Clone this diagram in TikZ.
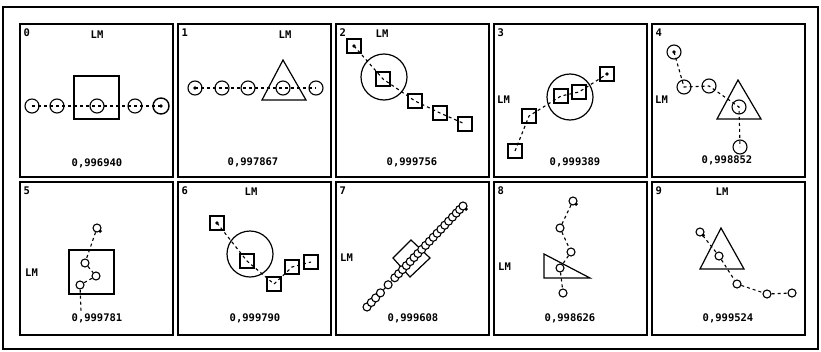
\documentclass[tikz,border=0pt]{standalone}
\usepackage{fontspec}
\setmonofont{DejaVu Sans Mono}
\usetikzlibrary{positioning}

\begin{document}
\begin{tikzpicture}[
  x=1pt, y=-1pt,
  font=\ttfamily\bfseries\fontsize{10.5}{12}\selectfont,
  frame/.style={draw, line width=1.5pt},
  traj/.style={draw, line width=1.1pt, dash pattern=on 3pt off 3pt},
  atom/.style={draw, circle, line width=1.1pt, minimum size=14pt, inner sep=0pt},
  qatom/.style={draw, circle, line width=1.1pt, minimum size=8pt, inner sep=0pt},
  cell/.style={draw, line width=1.2pt, minimum size=14pt, inner sep=0pt},
  ring/.style={draw, circle, line width=1.2pt, minimum size=46pt, inner sep=0pt},
  outline/.style={draw, line width=1.2pt},
  tag/.style={anchor=west, inner sep=0pt},
  val/.style={inner sep=0pt},
]
\useasboundingbox (0,0) rectangle (821,351);
\draw[frame, line width=1.2pt] (3,7) rectangle (818,349);

% the ten frames with their numbers
\foreach \i in {0,...,9} {
  \pgfmathtruncatemacro{\col}{mod(\i,5)}
  \pgfmathtruncatemacro{\row}{\i/5}
  \draw[frame] ({20+158*\col},{24+158*\row}) rectangle +(153,153);
  \node[tag] (n\i) at ({23.5+158*\col},{33+158*\row}) {\i};
}

% 0
\begin{scope}[shift={(20,24)}]
\node (lm0) at (77,11) {LM};
\node[cell, minimum width=45pt, minimum height=43pt] (b0) at (76.5,73.5) {};
\node[atom] (a01) at (12,82) {};
\node[atom] (a02) at (37,82) {};
\node[atom] (a03) at (77,82) {};
\node[atom] (a04) at (115,82) {};
\node[atom, minimum size=16pt, line width=1.4pt] (a05) at (141,82) {};
\fill (a05) circle (1.8pt);
\draw[traj] (a01.center) -- (a02.center) -- (a03.center) -- (a04.center) -- (a05.center);
\node[val] (v0) at (77,139) {0,996940};
\end{scope}

% 1
\begin{scope}[shift={(178,24)}]
\node (lm1) at (107,11) {LM};
\draw[outline] (105,36) -- (84,76) -- (128,76) -- cycle;
\node[atom] (a11) at (17,64) {};
\node[atom] (a12) at (44,64) {};
\node[atom] (a13) at (70,64) {};
\node[atom] (a14) at (105,64) {};
\node[atom] (a15) at (138,64) {};
\fill (a11) circle (1.8pt);
\draw[traj] (a11.center) -- (a12.center) -- (a13.center) -- (a14.center) -- (a15.center);
\node[val] (v1) at (75,138) {0,997867};
\end{scope}

% 2
\begin{scope}[shift={(336,24)}]
\node (lm2) at (46,10) {LM};
\node[ring] (r2) at (48,53) {};
\node[cell] (s21) at (18,22) {};
\node[cell] (s22) at (47,55) {};
\node[cell] (s23) at (79,77) {};
\node[cell] (s24) at (104,89) {};
\node[cell] (s25) at (129,100) {};
\fill (s21) circle (1.8pt);
\draw[traj] (s21.center) -- (s22.center) -- (s23.center) -- (s24.center) -- (s25.center);
\node[val] (v2) at (76,138) {0,999756};
\end{scope}

% 3
\begin{scope}[shift={(494,24)}]
\node[tag] (lm3) at (3,76) {LM};
\node[ring] (r3) at (76,73) {};
\node[cell] (s31) at (21,127) {};
\node[cell] (s32) at (35,92) {};
\node[cell] (s33) at (67,72) {};
\node[cell] (s34) at (85,68) {};
\node[cell] (s35) at (113,50) {};
\fill (s35) circle (1.8pt);
\draw[traj] (s31.center) -- (s32.center) -- (s33.center) -- (s34.center) -- (s35.center);
\node[val] (v3) at (81,138) {0,999389};
\end{scope}

% 4
\begin{scope}[shift={(652,24)}]
\node[tag] (lm4) at (3,76) {LM};
\draw[outline] (86,56) -- (65,95) -- (109,95) -- cycle;
\node[atom] (a41) at (22,28) {};
\node[atom] (a42) at (32,63) {};
\node[atom] (a43) at (57,62) {};
\node[atom] (a44) at (87,83) {};
\node[atom] (a45) at (88,123) {};
\fill (a41) circle (1.8pt);
\draw[traj] (a41.center) -- (a42.center) -- (a43.center) -- (a44.center) -- (a45.center);
\node[val] (v4) at (75,136) {0,998852};
\end{scope}

% 5
\begin{scope}[shift={(20,182)}]
\node[tag] (lm5) at (5,91) {LM};
\node[cell, minimum width=45pt, minimum height=44pt] (b5) at (71.5,90) {};
\node[qatom] (a51) at (77,46) {};
\node[qatom] (a52) at (65,81) {};
\node[qatom] (a53) at (76,94) {};
\node[qatom] (a54) at (60,103) {};
\coordinate (e5) at (61,129);
\fill (a51.south east) circle (1.8pt);
\draw[traj] (a51) -- (a52) -- (a53) -- (a54) -- (e5);
\node[val] (v5) at (77,136) {0,999781};
\end{scope}

% 6
\begin{scope}[shift={(178,182)}]
\node (lm6) at (73,10) {LM};
\node[ring] (r6) at (72,72) {};
\node[cell] (s61) at (39,41) {};
\node[cell] (s62) at (69,79) {};
\node[cell] (s63) at (96,102) {};
\node[cell] (s64) at (114,85) {};
\node[cell] (s65) at (133,80) {};
\fill (s61) circle (1.8pt);
\draw[traj] (s61.center) -- (s62.center) -- (s63.center) -- (s64.center) -- (s65.center);
\node[val] (v6) at (77,136) {0,999790};
\end{scope}

% 7
\begin{scope}[shift={(336,182)}]
\node[tag] (lm7) at (4,76) {LM};
\draw[outline] (75,58) -- (94,76) -- (74,95) -- (57,76) -- cycle;
\coordinate (h0) at (31,125);
\coordinate (h1) at (127,24);
\draw[traj] (h0) -- (h1);
\foreach \t [count=\k] in {0,.045,.09,.14,.22,.29,.33,.37,.41,.45,.49,.53,.57,.61,.65,.69,.73,.77,.81,.85,.89,.93,.965,1}
  \node[qatom, fill=white] (c7\k) at ({31+96*\t},{125-101*\t}) {};
\fill (c724.south east) circle (1.8pt);
\node[val] (v7) at (77,136) {0,999608};
\end{scope}

% 8
\begin{scope}[shift={(494,182)}]
\node[tag] (lm8) at (4,85) {LM};
\draw[outline] (50,72) -- (50,96) -- (96,96) -- cycle;
\node[qatom] (a81) at (79,19) {};
\node[qatom] (a82) at (66,46) {};
\node[qatom] (a83) at (77,70) {};
\node[qatom] (a84) at (66,86) {};
\node[qatom] (a85) at (69,111) {};
\fill (a81.south east) circle (1.8pt);
\draw[traj] (a81) -- (a82) -- (a83) -- (a84) -- (a85);
\node[val] (v8) at (76,136) {0,998626};
\end{scope}

% 9
\begin{scope}[shift={(652,182)}]
\node (lm9) at (70,10) {LM};
\draw[outline] (69,46) -- (48,87) -- (92,87) -- cycle;
\node[qatom] (a91) at (48,50) {};
\node[qatom] (a92) at (67,74) {};
\node[qatom] (a93) at (85,102) {};
\node[qatom] (a94) at (115,112) {};
\node[qatom] (a95) at (140,111) {};
\fill (a91.south east) circle (1.8pt);
\draw[traj] (a91) -- (a92) -- (a93) -- (a94) -- (a95);
\node[val] (v9) at (76,136) {0,999524};
\end{scope}
\end{tikzpicture}
\end{document}
